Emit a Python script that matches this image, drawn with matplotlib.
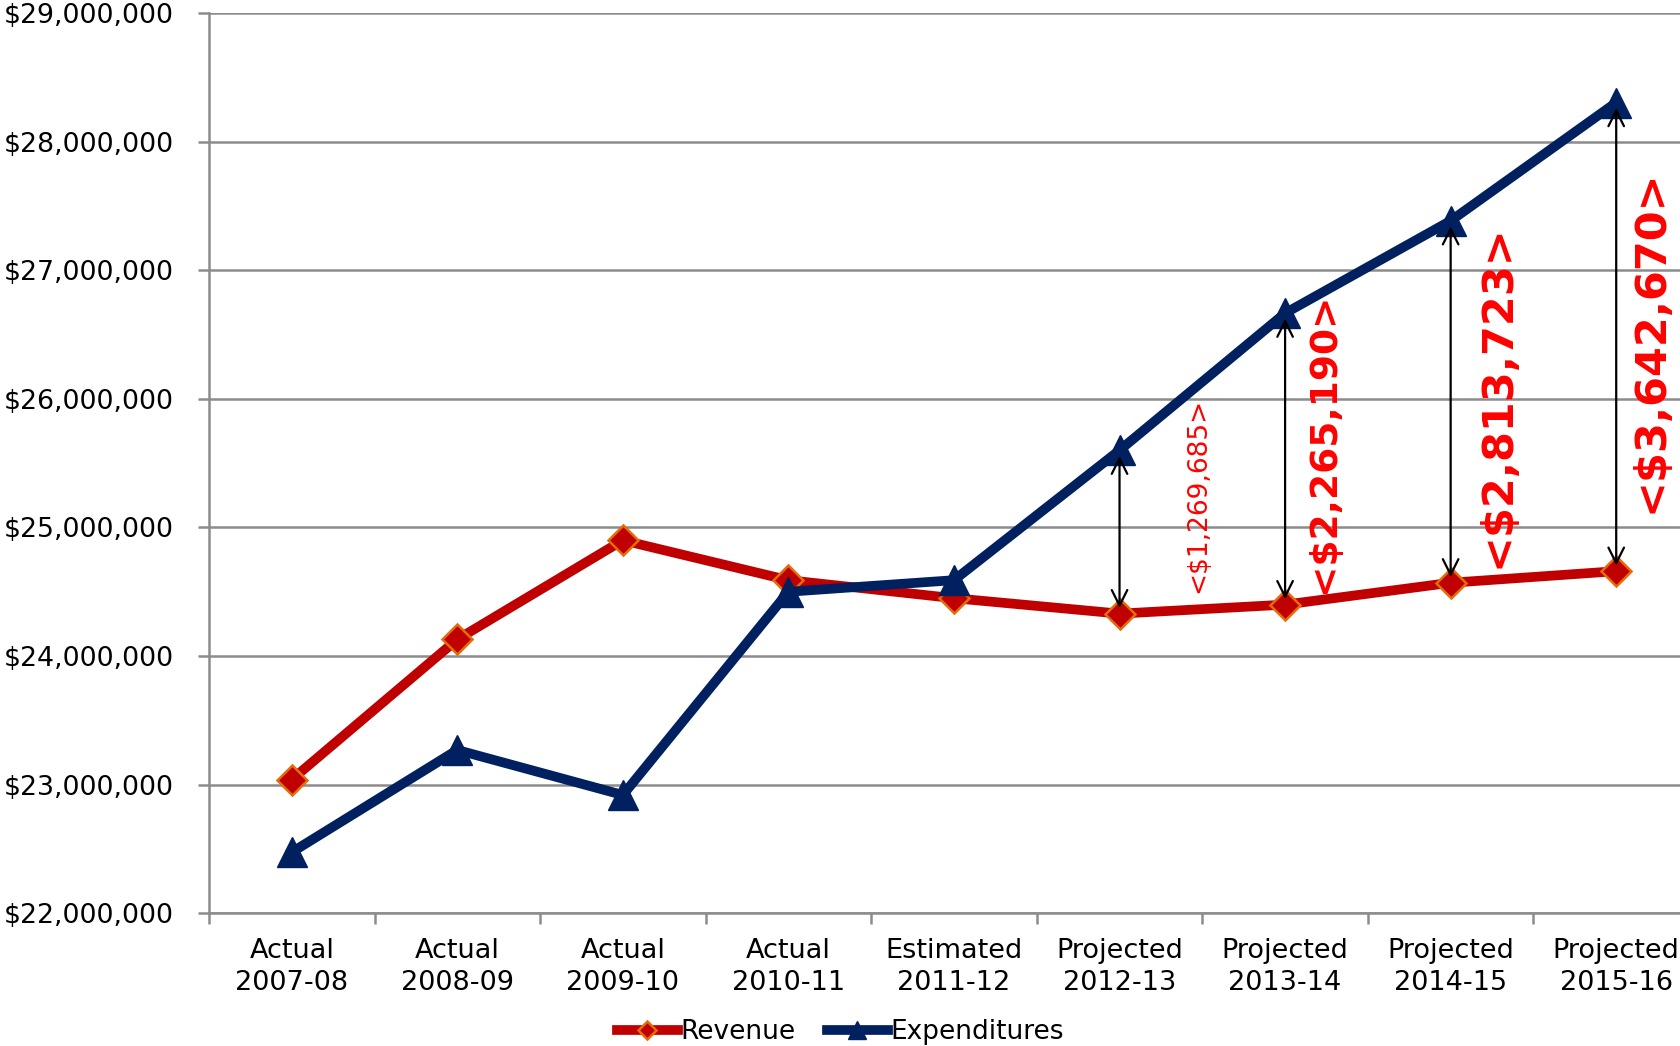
import matplotlib

matplotlib.use("Agg")
import matplotlib.pyplot as plt
from matplotlib.ticker import FuncFormatter, FixedLocator

# fiscal years (two-line category labels)
categories = ["Actual\n2007-08", "Actual\n2008-09", "Actual\n2009-10", "Actual\n2010-11",
              "Estimated\n2011-12", "Projected\n2012-13", "Projected\n2013-14",
              "Projected\n2014-15", "Projected\n2015-16"]
revenue = [23040000, 24130000, 24900000, 24590000, 24450000,
           24330000, 24400000, 24570000, 24660000]
expenditures = [22475000, 23270000, 22920000, 24500000, 24590000,
                25599685, 26665190, 27383723, 28302670]
gap_labels = ["<$1,269,685>", "<$2,265,190>", "<$2,813,723>", "<$3,642,670>"]
gap_index = [5, 6, 7, 8]

RED = "#c00000"
NAVY = "#002060"
ORANGE = "#e46c0a"
GRID = "#8c8c8c"

fig = plt.figure(figsize=(16.81, 10.46), dpi=100)
ax = fig.add_axes([0.1243, 0.1268, 0.8864, 0.8609])

x = list(range(len(categories)))
ax.plot(x, revenue, color=RED, lw=7, marker="D", ms=15, mfc=RED, mec=ORANGE,
        mew=1.8, label="Revenue", zorder=3)
ax.plot(x, expenditures, color=NAVY, lw=7, marker="^", ms=21, mfc=NAVY, mec=NAVY,
        label="Expenditures", zorder=3)

# deficit arrows between the two series
for i in gap_index:
    ax.annotate("", xy=(x[i], expenditures[i]), xytext=(x[i], revenue[i]),
                arrowprops=dict(arrowstyle="<->", color="black", lw=1.6,
                                mutation_scale=28, shrinkA=4, shrinkB=4), zorder=4)

# rotated deficit labels (x offset, y centre, font size)
label_x = [5.476, 6.233, 7.28, 8.207]
label_y = [25250000, 25660000, 26020000, 26450000]
label_fs = [19, 27, 31, 31]
for txt, lx, ly, fs in zip(gap_labels, label_x, label_y, label_fs):
    ax.text(lx, ly, txt, rotation=90, color="red", fontsize=fs, ha="center", va="center",
            fontweight="bold" if fs > 20 else "normal", zorder=5)

ax.set_xlim(-0.5, len(categories) - 0.5)
ax.set_ylim(22000000, 29000000)
ax.yaxis.set_major_locator(FixedLocator([22e6 + k * 1e6 for k in range(8)]))
ax.yaxis.set_major_formatter(FuncFormatter(lambda v, p: f"${v:,.0f}"))
ax.yaxis.grid(True, color=GRID, lw=1.8)
ax.set_axisbelow(True)

ax.set_xticks(x)
ax.set_xticklabels(categories, fontsize=19.5, linespacing=1.3)
ax.set_xticks([i - 0.5 for i in range(len(categories) + 1)], minor=True)
ax.tick_params(axis="x", which="major", length=0, pad=18)
ax.tick_params(axis="x", which="minor", length=8, width=1.8, color=GRID)
ax.tick_params(axis="y", length=8, width=1.8, color=GRID, labelsize=19.3, pad=17)

for side in ("top", "right"):
    ax.spines[side].set_visible(False)
for side in ("left", "bottom"):
    ax.spines[side].set_color(GRID)
    ax.spines[side].set_linewidth(1.8)

fig.legend(loc="lower center", bbox_to_anchor=(0.5, -0.022), ncol=2, frameon=False,
           fontsize=19, handlelength=2.3, handletextpad=0.1, columnspacing=1.2,
           markerscale=0.6)

fig.savefig("out.png", dpi=100)
